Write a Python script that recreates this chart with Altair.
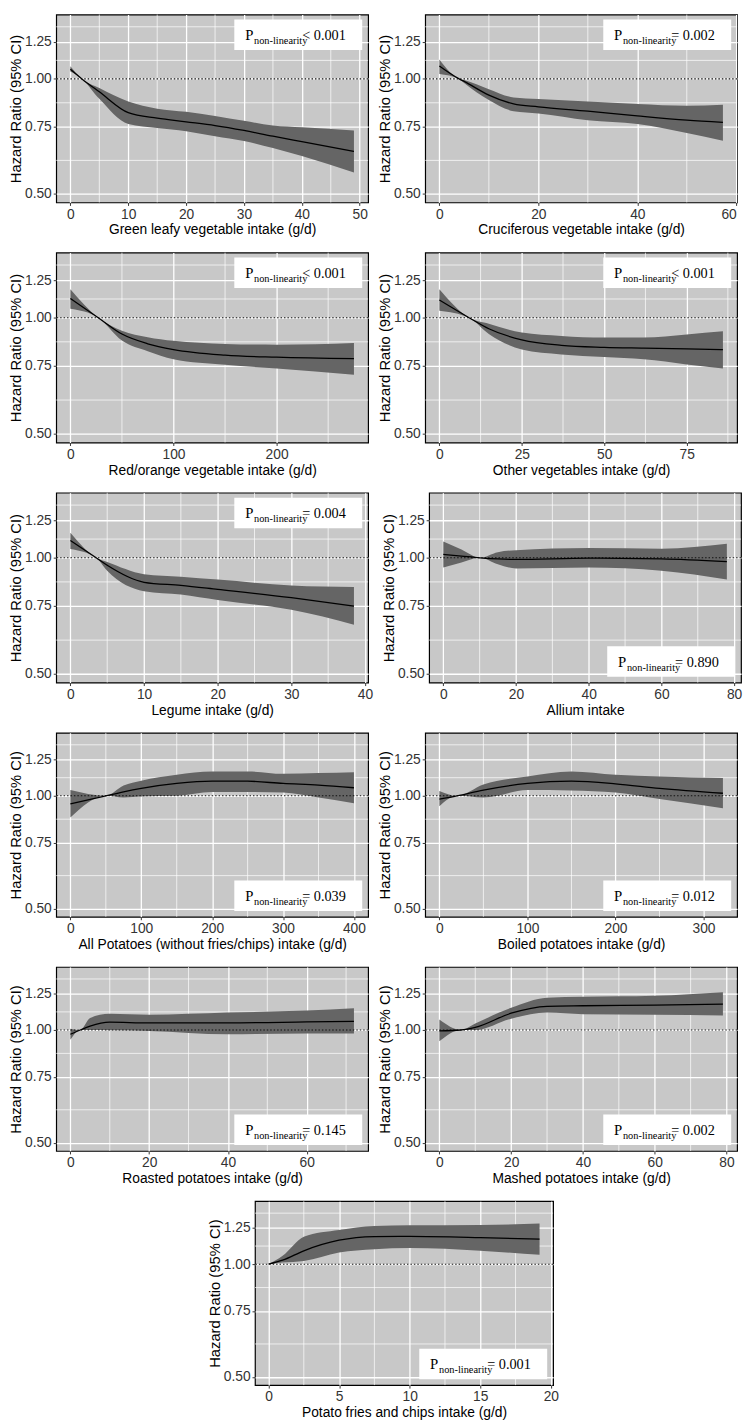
import altair as alt
import pandas as pd

# ---------------- data ----------------
Y_TICKS = [0.5, 0.75, 1.0, 1.25]
Y_MINOR = [0.612, 0.866, 1.118, 1.369]
Y_DOMAIN = [0.475, 1.474]
REF_HR = [1.0]

GREEN_X = [0, 2, 5, 10, 15, 20, 25, 30, 35, 40, 49]
GREEN_HR = [1.06, 1.0, 0.925, 0.816, 0.789, 0.772, 0.755, 0.733, 0.708, 0.685, 0.646]
GREEN_LO = [1.045, 1.0, 0.887, 0.762, 0.744, 0.730, 0.708, 0.688, 0.659, 0.628, 0.569]
GREEN_HI = [1.08, 1.0, 0.947, 0.873, 0.836, 0.820, 0.800, 0.777, 0.755, 0.747, 0.733]
GREEN_TICKS = [0, 10, 20, 30, 40, 50]

CRUC_X = [0, 4, 5, 10, 15, 20, 30, 40, 50, 57.3]
CRUC_HR = [1.081, 1.0, 0.985, 0.907, 0.86, 0.845, 0.823, 0.80, 0.78, 0.77]
CRUC_LO = [1.03, 1.0, 0.975, 0.881, 0.823, 0.812, 0.78, 0.762, 0.722, 0.689]
CRUC_HI = [1.124, 1.0, 0.993, 0.94, 0.894, 0.886, 0.873, 0.86, 0.851, 0.856]
CRUC_TICKS = [0, 20, 40, 60]

RED_X = [0, 27, 50, 75, 100, 150, 200, 275]
RED_HR = [1.121, 1.0, 0.907, 0.856, 0.827, 0.80, 0.79, 0.783]
RED_LO = [1.054, 1.0, 0.873, 0.819, 0.78, 0.755, 0.739, 0.712]
RED_HI = [1.184, 1.0, 0.925, 0.89, 0.871, 0.855, 0.851, 0.86]
RED_TICKS = [0, 100, 200]

OTHER_X = [0, 9, 15, 25, 37, 50, 62, 75, 86]
OTHER_HR = [1.111, 1.0, 0.936, 0.876, 0.848, 0.838, 0.834, 0.83, 0.827]
OTHER_LO = [1.043, 1.0, 0.908, 0.827, 0.803, 0.791, 0.78, 0.757, 0.739]
OTHER_HI = [1.184, 1.0, 0.965, 0.915, 0.897, 0.888, 0.888, 0.905, 0.922]
OTHER_TICKS = [0, 25, 50, 75]

LEG_X = [0, 3.5, 5, 10, 15, 20, 30, 38.5]
LEG_HR = [1.108, 1.0, 0.956, 0.864, 0.848, 0.828, 0.788, 0.75]
LEG_LO = [1.054, 1.0, 0.925, 0.819, 0.803, 0.777, 0.733, 0.671]
LEG_HI = [1.161, 1.0, 0.975, 0.907, 0.893, 0.878, 0.848, 0.84]
LEG_TICKS = [0, 10, 20, 30, 40]

ALL_X = [0, 5, 10, 15, 20, 40, 60, 78]
ALL_HR = [1.02, 1.01, 1.0, 0.993, 0.99, 0.998, 0.994, 0.977]
ALL_LO = [0.943, 0.972, 1.0, 0.962, 0.938, 0.943, 0.925, 0.878]
ALL_HI = [1.102, 1.05, 1.0, 1.034, 1.046, 1.06, 1.056, 1.087]
ALL_TICKS = [0, 20, 40, 60, 80]

POT_X = [0, 50, 75, 100, 150, 200, 250, 300, 350, 400]
POT_HR = [0.951, 1.0, 1.025, 1.047, 1.079, 1.094, 1.094, 1.079, 1.068, 1.051]
POT_LO = [0.875, 1.0, 0.99, 0.996, 1.0, 1.024, 1.024, 1.02, 0.99, 0.955]
POT_HI = [1.036, 1.0, 1.065, 1.098, 1.139, 1.162, 1.162, 1.145, 1.15, 1.157]
POT_TICKS = [0, 100, 200, 300, 400]

BOIL_X = [0, 20, 50, 100, 150, 200, 250, 322]
BOIL_HR = [0.98, 1.0, 1.036, 1.079, 1.094, 1.077, 1.047, 1.016]
BOIL_LO = [0.938, 1.0, 0.99, 1.036, 1.034, 1.02, 0.98, 0.927]
BOIL_HI = [1.03, 1.0, 1.072, 1.127, 1.162, 1.139, 1.127, 1.116]
BOIL_TICKS = [0, 100, 200, 300]

ROAST_X = [0, 2.5, 5, 10, 20, 40, 60, 72]
ROAST_HR = [0.974, 1.0, 1.024, 1.049, 1.045, 1.045, 1.051, 1.055]
ROAST_LO = [0.942, 1.0, 1.0, 0.998, 0.994, 0.974, 0.978, 0.978]
ROAST_HI = [1.008, 1.0, 1.077, 1.105, 1.098, 1.113, 1.127, 1.143]
ROAST_TICKS = [0, 20, 40, 60]

MASH_X = [0, 6, 10, 20, 30, 40, 60, 79]
MASH_HR = [0.995, 1.0, 1.016, 1.109, 1.157, 1.161, 1.165, 1.172]
MASH_LO = [0.933, 1.0, 1.0, 1.072, 1.113, 1.102, 1.098, 1.094]
MASH_HI = [1.066, 1.0, 1.041, 1.146, 1.22, 1.227, 1.235, 1.262]
MASH_TICKS = [0, 20, 40, 60, 80]

FRIES_X = [0, 1, 2.5, 5, 7.5, 10, 15, 19.2]
FRIES_HR = [1.0, 1.025, 1.086, 1.159, 1.185, 1.187, 1.178, 1.166]
FRIES_LO = [1.0, 1.01, 1.02, 1.075, 1.097, 1.104, 1.086, 1.059]
FRIES_HI = [1.0, 1.053, 1.184, 1.234, 1.265, 1.27, 1.273, 1.284]
FRIES_TICKS = [0, 5, 10, 15, 20]

TITLES = [
    "Green leafy vegetable intake (g/d)",
    "Cruciferous vegetable intake (g/d)",
    "Red/orange vegetable intake (g/d)",
    "Other vegetables intake (g/d)",
    "Legume intake (g/d)",
    "Allium intake",
    "All Potatoes (without fries/chips) intake (g/d)",
    "Boiled potatoes intake (g/d)",
    "Roasted potatoes intake (g/d)",
    "Mashed potatoes intake (g/d)",
    "Potato fries and chips intake (g/d)",
]
P_TEXTS = ["< 0.001", "= 0.002", "< 0.001", "< 0.001", "= 0.004", "= 0.890",
           "= 0.039", "= 0.012", "= 0.145", "= 0.002", "= 0.001"]
P_POS = ["top", "top", "top", "top", "top", "bottom",
         "bottom", "bottom", "bottom", "bottom", "bottom"]

SERIES = [
    (GREEN_X, GREEN_HR, GREEN_LO, GREEN_HI, GREEN_TICKS),
    (CRUC_X, CRUC_HR, CRUC_LO, CRUC_HI, CRUC_TICKS),
    (RED_X, RED_HR, RED_LO, RED_HI, RED_TICKS),
    (OTHER_X, OTHER_HR, OTHER_LO, OTHER_HI, OTHER_TICKS),
    (LEG_X, LEG_HR, LEG_LO, LEG_HI, LEG_TICKS),
    (ALL_X, ALL_HR, ALL_LO, ALL_HI, ALL_TICKS),
    (POT_X, POT_HR, POT_LO, POT_HI, POT_TICKS),
    (BOIL_X, BOIL_HR, BOIL_LO, BOIL_HI, BOIL_TICKS),
    (ROAST_X, ROAST_HR, ROAST_LO, ROAST_HI, ROAST_TICKS),
    (MASH_X, MASH_HR, MASH_LO, MASH_HI, MASH_TICKS),
    (FRIES_X, FRIES_HR, FRIES_LO, FRIES_HI, FRIES_TICKS),
]

# ---------------- styling ----------------
W = 317
W_LAST = 303
ROW_H = [191, 193, 193, 187, 187, 187]
PANEL_BG = "#c8c8c8"
RIBBON = "#656565"
SERIF = "Liberation Serif"
SANS = "Liberation Sans"
Y_TITLE = "Hazard Ratio (95% CI)"
PANEL_VIEW = alt.ViewBackground(fill=PANEL_BG, stroke="black", strokeWidth=1.2)


def panel(i, width, height):
    xs, hr, lo, hi, ticks = SERIES[i]
    title = TITLES[i]
    df = pd.DataFrame({"x": xs, "hr": hr, "lo": lo, "hi": hi})
    span = max(xs) - min(xs)
    dom = [min(xs) - 0.05 * span, max(xs) + 0.05 * span]
    xscale = alt.Scale(domain=dom, nice=False, zero=False)
    yscale = alt.Scale(type="log", domain=Y_DOMAIN, nice=False)
    xaxis = alt.Axis(values=ticks, title=title, grid=True, format="d",
                     titleFontSize=14, titlePadding=2)
    yaxis = alt.Axis(values=Y_TICKS, title=Y_TITLE, grid=True, format=".2f",
                     titleFontSize=15, titlePadding=1)

    step = ticks[1] - ticks[0]
    cand = [ticks[0] - step / 2] + [t + step / 2 for t in ticks]
    minor_x = [c for c in cand if dom[0] < c < dom[1]]

    mx = alt.Chart(pd.DataFrame({"x": minor_x})).mark_rule(
        color="white", strokeWidth=0.7
    ).encode(x=alt.X("x:Q", scale=xscale, axis=xaxis))
    my = alt.Chart(pd.DataFrame({"hr": Y_MINOR})).mark_rule(
        color="white", strokeWidth=0.7
    ).encode(y=alt.Y("hr:Q", scale=yscale, axis=yaxis))

    base = alt.Chart(df)
    area = base.mark_area(color=RIBBON, opacity=1, interpolate="monotone").encode(
        x=alt.X("x:Q", scale=xscale, axis=xaxis),
        y=alt.Y("lo:Q", scale=yscale, axis=yaxis),
        y2="hi:Q",
    )
    ref = alt.Chart(pd.DataFrame({"hr": REF_HR})).mark_rule(
        color="#111111", strokeDash=[1.5, 2], strokeWidth=1.1
    ).encode(y=alt.Y("hr:Q", scale=yscale, axis=yaxis))
    line = base.mark_line(color="black", strokeWidth=1.3, interpolate="monotone").encode(
        x=alt.X("x:Q", scale=xscale, axis=xaxis),
        y=alt.Y("hr:Q", scale=yscale, axis=yaxis),
    )

    # annotation box
    bw, bh = 130, 31
    bx = width - 6 - bw
    by = 5 if P_POS[i] == "top" else height - 6 - bh
    lab = pd.DataFrame({"t": [P_TEXTS[i]]})
    box = alt.Chart(lab).mark_rect(color="white").encode(
        x=alt.value(bx), x2=alt.value(bx + bw), y=alt.value(by), y2=alt.value(by + bh)
    )
    tp = alt.Chart(lab).mark_text(
        font=SERIF, fontSize=15, align="left", baseline="alphabetic", color="black"
    ).encode(x=alt.value(bx + 11), y=alt.value(by + 21), text=alt.value("P"))
    ts = alt.Chart(lab).mark_text(
        font=SERIF, fontSize=10.5, align="left", baseline="alphabetic", color="black"
    ).encode(x=alt.value(bx + 20), y=alt.value(by + 25), text=alt.value("non-linearity"))
    tv = alt.Chart(lab).mark_text(
        font=SERIF, fontSize=14.5, align="left", baseline="alphabetic", color="black"
    ).encode(x=alt.value(bx + 69), y=alt.value(by + 21), text="t:N")

    return alt.layer(mx, my, area, ref, line, box, tp, ts, tv).properties(
        width=width, height=height, view=PANEL_VIEW
    )


rows = []
for r in range(5):
    rows.append(alt.hconcat(panel(2 * r, W, ROW_H[r]), panel(2 * r + 1, W, ROW_H[r]),
                            spacing=7))

spacer = alt.Chart(pd.DataFrame({"v": [0]})).mark_point(opacity=0).encode(
    x=alt.X("v:Q", axis=None), y=alt.Y("v:Q", axis=None)
).properties(width=152, height=10,
             view=alt.ViewBackground(fill="transparent", stroke="transparent"))
rows.append(alt.hconcat(spacer, panel(10, W_LAST, ROW_H[5]), spacing=0))

chart = alt.vconcat(*rows, spacing=14).properties(
    padding={"left": 0, "top": -6, "right": 0, "bottom": 0},
    background="white",
).configure_axis(
    labelFont=SANS, labelFontSize=14, labelColor="#333333",
    titleFont=SANS, titleFontWeight="normal", titleColor="black",
    tickColor="#333333", tickSize=3, domain=False,
    gridColor="white", gridWidth=1.3, labelPadding=2,
)

chart.save("out.html", embed_options={"renderer": "svg", "actions": False})
